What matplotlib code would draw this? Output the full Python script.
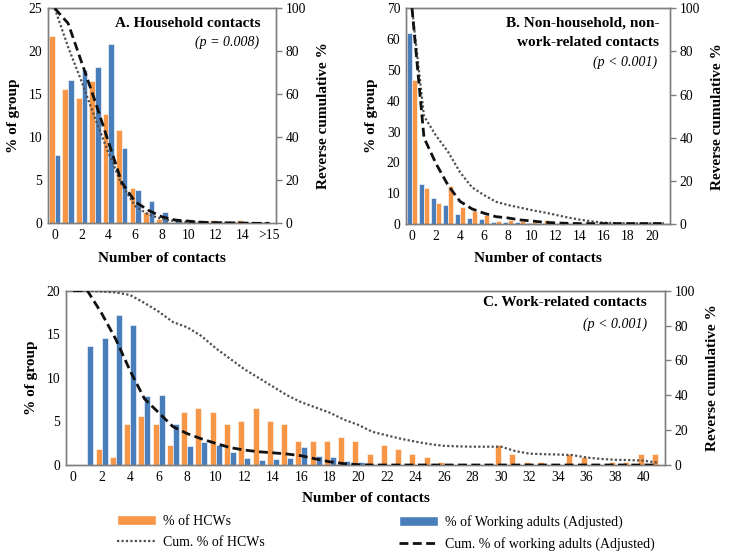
import matplotlib
matplotlib.use("Agg")
import matplotlib.pyplot as plt
from matplotlib.patches import Patch
from matplotlib.lines import Line2D
import numpy as np

plt.rcParams['font.family'] = ['Liberation Serif', 'DejaVu Serif']

# ---------------- data ----------------
A_labels = ['0', '', '2', '', '4', '', '6', '', '8', '', '10', '', '12', '', '14', '', '>15']
A_hcw = [21.8, 15.6, 14.6, 16.6, 12.7, 10.8, 4.1, 1.3, 0.5, 0.15, 0.1, 0.1, 0.4, 0.1, 0.4, 0.05, 0.1]
A_adult = [7.9, 16.7, 17.8, 18.2, 20.8, 8.8, 3.9, 2.6, 1.3, 0.4, 0.4, 0.1, 0.1, 0.05, 0.1, 0.05, 0.05]
A_cum_hcw = [100, 82, 66, 49, 33, 18, 8, 4, 2, 1, 0.6, 0.5, 0.5, 0.3, 0.3, 0, 0]
A_cum_adult = [100, 93, 75, 57, 38, 19, 10, 6, 3, 1.5, 1, 0.5, 0.3, 0.2, 0.1, 0, 0]

B_labels = ['0', '', '2', '', '4', '', '6', '', '8', '', '10', '', '12', '', '14', '', '16', '', '18', '', '20', '']
B_adult = [61.9, 12.9, 8.5, 6.2, 3.4, 1.8, 1.5, 0.5, 0.8, 0.6, 0.3, 0.1, 0.1, 0.1, 0.1, 0.1, 0.2, 0.2, 0.2, 0.2, 0.2, 0.0]
B_hcw = [46.8, 11.8, 6.7, 12.3, 5.6, 4.2, 2.9, 1.0, 1.3, 1.0, 0.7, 1.3, 0.2, 0.2, 0.2, 0.1, 0.2, 0.2, 0.2, 0.2, 0.2, 0.3]
B_cum_adult = [100, 40, 28, 18, 10.5, 7, 5, 3.4, 2.8, 1.9, 1.4, 0.8, 0.5, 0.3, 0.2, 0.2, 0.2, 0.2, 0.2, 0.2, 0.2, 0.2]
B_cum_hcw = [100, 50, 41, 33.5, 24, 17, 13.4, 10.3, 8.8, 7.6, 6.4, 5.4, 4.2, 3, 2, 1.2, 0.6, 0.4, 0.3, 0.3, 0.3, 0.3]

C_labels = [str(i) if i % 2 == 0 else '' for i in range(42)]
C_hcw = [0, 0, 1.8, 0.9, 4.7, 5.6, 4.7, 2.3, 6.1, 6.5, 6.1, 4.7, 5.1, 6.5, 5.1, 4.7, 2.75, 2.75, 2.75, 3.25,
         2.75, 1.3, 2.3, 1.8, 1.3, 0.9, 0.4, 0, 0, 0, 2.3, 1.3, 0.4, 0.4, 0, 1.3, 0.9, 0, 0.4, 0.4, 1.3, 1.3]
C_adult = [0, 13.6, 14.6, 17.2, 16.1, 7.95, 8.0, 4.7, 2.2, 2.6, 2.3, 1.5, 0.75, 0.6, 0.7, 0.85, 2.05, 1.0, 0.95, 0.45,
           0.35, 0, 0, 0, 0, 0, 0, 0, 0, 0, 0, 0, 0, 0, 0, 0, 0, 0, 0, 0, 0, 0]
C_cum_hcw = [100, 100, 99.5, 99, 97.5, 93, 88, 82, 79, 74, 67, 61, 55, 50, 45, 40, 36, 33, 30, 26,
             23, 19, 17, 15, 13.4, 12, 11, 10.7, 10.5, 10.5, 10.5, 8, 6.5, 6.2, 6, 5.7, 4.3, 3.5, 3, 2.8, 2.5, 1.3]
C_cum_adult = [100, 100, 87, 72, 54, 38, 30, 22, 18, 15, 12.4, 10, 8.6, 7.6, 7, 6.3, 5.3, 3.5, 1.8, 0.8,
               0.2, 0, 0, 0, 0, 0, 0, 0, 0, 0, 0, 0, 0, 0, 0, 0, 0, 0, 0, 0, 0, 0]

ORANGE = '#F79646'
BLUE = '#4A7EBB'
SPINE = '#7f7f7f'
TICKFS = 9.8
LABFS = 11

W, H = 731, 554
fig = plt.figure(figsize=(W / 100, H / 100), dpi=100)


def ax_at(l, t, r, b):
    return fig.add_axes([l / W, 1 - b / H, (r - l) / W, (b - t) / H])


def panel(ax, labels, first, second, c1, c2, cum_dot, cum_dash, ymax, ystep, bw, xlpad):
    n = len(labels)
    x = np.arange(n)
    ax.bar(x - bw / 2, first, width=bw, color=c1, edgecolor='white', linewidth=0.4, zorder=2)
    ax.bar(x + bw / 2, second, width=bw, color=c2, edgecolor='white', linewidth=0.4, zorder=2)
    ax.set_xlim(-0.5, n - 0.5)
    ax.set_ylim(0, ymax)
    ax.set_yticks(np.arange(0, ymax + 0.01, ystep))
    ax.set_xticks(x)
    ax.set_xticklabels(labels, fontsize=TICKFS)
    ax.tick_params(axis='both', length=0, labelsize=TICKFS, pad=4)
    for s in ax.spines.values():
        s.set_color(SPINE)
        s.set_linewidth(1.0)
    ax.set_ylabel('% of group', fontsize=LABFS, fontweight='bold', labelpad=6)
    ax.set_xlabel('Number of contacts', fontsize=LABFS, fontweight='bold', labelpad=xlpad)
    ax2 = ax.twinx()
    ax2.plot(x, cum_dot, color='#505050', linestyle=(0, (1, 1)), linewidth=1.6, zorder=3)
    ax2.plot(x, cum_dash, color='#111111', linestyle=(0, (3.2, 1.6)), linewidth=2.0, zorder=3)
    ax2.set_ylim(0, 100)
    ax2.set_yticks(np.arange(0, 101, 20))
    ax2.tick_params(axis='y', direction='out', length=4, width=1, color=SPINE, labelsize=TICKFS, pad=3)
    for s in ax2.spines.values():
        s.set_color(SPINE)
        s.set_linewidth(1.0)
    ax2.set_ylabel('Reverse cumulative %', fontsize=LABFS, fontweight='bold', labelpad=8)
    return ax2


# Panel A
axA = ax_at(48, 8.3, 276, 223.3)
a2 = panel(axA, A_labels, A_hcw, A_adult, ORANGE, BLUE, A_cum_hcw, A_cum_adult, 25, 5, 0.42, 7)
axA.text(0.93, 0.93, 'A. Household contacts', transform=axA.transAxes, ha='right', va='center',
         fontsize=LABFS, fontweight='bold')
axA.text(0.925, 0.84, '(p = 0.008)', transform=axA.transAxes, ha='right', va='center',
         fontsize=10, style='italic')

# Panel B
axB = ax_at(406, 8.3, 670, 224)
b2 = panel(axB, B_labels, B_adult, B_hcw, BLUE, ORANGE, B_cum_hcw, B_cum_adult, 70, 10, 0.44, 7)
axB.text(0.96, 0.93, 'B. Non-household, non-', transform=axB.transAxes, ha='right', va='center',
         fontsize=LABFS, fontweight='bold')
axB.text(0.96, 0.84, 'work-related contacts', transform=axB.transAxes, ha='right', va='center',
         fontsize=LABFS, fontweight='bold')
axB.text(0.953, 0.75, '(p < 0.001)', transform=axB.transAxes, ha='right', va='center',
         fontsize=10, style='italic')

# Panel C
axC = ax_at(66, 290.7, 665, 465)
c2 = panel(axC, C_labels, C_hcw, C_adult, ORANGE, BLUE, C_cum_hcw, C_cum_adult, 20, 5, 0.42, 6)
axC.text(0.97, 0.93, 'C. Work-related contacts', transform=axC.transAxes, ha='right', va='center',
         fontsize=LABFS, fontweight='bold')
axC.text(0.97, 0.81, '(p < 0.001)', transform=axC.transAxes, ha='right', va='center',
         fontsize=10, style='italic')

# Legend
h1 = [Patch(facecolor=ORANGE, edgecolor='white'),
      Line2D([0], [0], color='#505050', linestyle=(0, (1, 1)), linewidth=1.6)]
h2 = [Patch(facecolor=BLUE, edgecolor='white'),
      Line2D([0], [0], color='#111111', linestyle=(0, (3.2, 1.6)), linewidth=2.0)]
leg1 = fig.legend(h1, ['% of HCWs', 'Cum. % of HCWs'], loc='upper left',
                  bbox_to_anchor=(110 / W, 1 - 508 / H), frameon=False, fontsize=10,
                  handlelength=2.8, handleheight=0.7, labelspacing=0.6, handletextpad=0.5, borderpad=0)
leg2 = fig.legend(h2, ['% of Working adults (Adjusted)', 'Cum. % of working adults (Adjusted)'],
                  loc='upper left', bbox_to_anchor=(392 / W, 1 - 508 / H), frameon=False, fontsize=10,
                  handlelength=2.8, handleheight=0.7, labelspacing=0.6, handletextpad=0.5, borderpad=0)

fig.savefig('out.png', dpi=100)
